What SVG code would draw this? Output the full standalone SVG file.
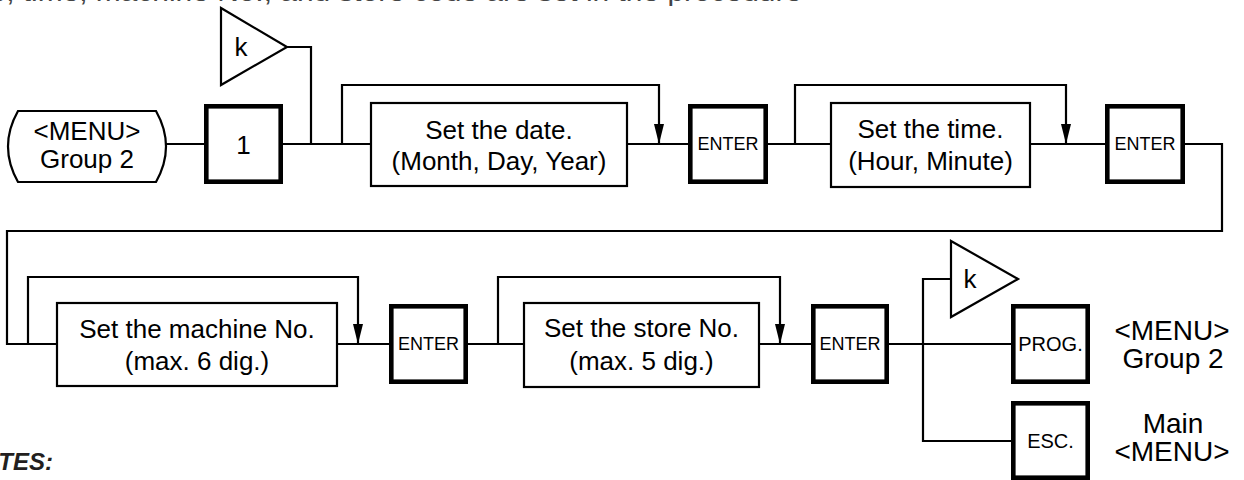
<svg xmlns="http://www.w3.org/2000/svg" width="1244" height="480" viewBox="0 0 1244 480">
<style>
.t{font-family:"Liberation Sans",Arial,sans-serif;fill:#000;text-anchor:middle}
.lbl{font-size:26px}
.key{font-size:18px}
.key2{font-size:20px}
.big{font-size:28px}
.thin{fill:#fff;stroke:#000;stroke-width:2.2}
.thick{fill:#fff;stroke:#000;stroke-width:4.6}
.ln{fill:none;stroke:#000;stroke-width:2.2}
</style>
<defs>
<marker id="arr" markerUnits="userSpaceOnUse" markerWidth="20" markerHeight="10" refX="20" refY="5" orient="auto">
<path d="M0,0 L20,5 L0,10 Z" fill="#000"/>
</marker>
</defs>
<rect width="1244" height="480" fill="#fff"/>
<text x="-52" y="1" font-family="Liberation Sans,Arial,sans-serif" font-size="26" fill="#444" textLength="854" lengthAdjust="spacingAndGlyphs">date, time, machine No., and store code are set in the procedure</text>
<text x="53" y="470" font-family="Liberation Sans,Arial,sans-serif" font-size="24" font-weight="bold" font-style="italic" fill="#231f20" text-anchor="end">NOTES:</text>

<g id="connectors">
<path class="ln" d="M166,144 H204"/>
<path class="ln" d="M283,144 H370"/>
<path class="ln" d="M287,47 H311 V144"/>
<path class="ln" d="M342,144 V85 H659 V144" marker-end="url(#arr)"/>
<path class="ln" d="M628,144 H688"/>
<path class="ln" d="M768,144 H830"/>
<path class="ln" d="M795,144 V85 H1066 V144" marker-end="url(#arr)"/>
<path class="ln" d="M1031,144 H1105"/>
<path class="ln" d="M1185,144 H1222 V231 H7 V344 H56"/>
<path class="ln" d="M28,344 V277 H358 V344" marker-end="url(#arr)"/>
<path class="ln" d="M338,344 H389"/>
<path class="ln" d="M468,344 H523"/>
<path class="ln" d="M498,344 V277 H780 V344" marker-end="url(#arr)"/>
<path class="ln" d="M760,344 H812"/>
<path class="ln" d="M889,344 H1011"/>
<path class="ln" d="M951,279 H923 V441 H1011"/>
</g>

<g id="start">
<path class="thin" d="M18,111 H156 Q176,146.5 156,182 H18 Q-2,146.5 18,111 Z"/>
<text class="t lbl" x="87" y="140">&lt;MENU&gt;</text>
<text class="t lbl" x="87" y="168">Group 2</text>
</g>
<g id="k1">
<path class="thin" d="M221,8 L287,47 L221,85 Z"/>
<text class="t lbl" x="241" y="56">k</text>
</g>
<g id="key1">
<rect class="thick" x="206.3" y="106.3" width="74.4" height="75.4"/>
<text class="t lbl" x="243.5" y="154">1</text>
</g>
<g id="date">
<rect class="thin" x="371" y="103" width="256" height="83"/>
<text class="t lbl" x="499" y="139">Set the date.</text>
<text class="t lbl" x="499" y="170">(Month, Day, Year)</text>
</g>
<g id="enter1">
<rect class="thick" x="690.3" y="106.3" width="75.4" height="75.4"/>
<text class="t key" x="728" y="150">ENTER</text>
</g>
<g id="time">
<rect class="thin" x="831" y="103" width="199" height="84"/>
<text class="t lbl" x="930.5" y="138">Set the time.</text>
<text class="t lbl" x="930.5" y="170">(Hour, Minute)</text>
</g>
<g id="enter2">
<rect class="thick" x="1107.3" y="106.3" width="75.4" height="75.4"/>
<text class="t key" x="1145" y="150">ENTER</text>
</g>
<g id="machine">
<rect class="thin" x="57" y="303" width="280" height="83"/>
<text class="t lbl" x="197" y="338">Set the machine No.</text>
<text class="t lbl" x="197" y="370">(max. 6 dig.)</text>
</g>
<g id="enter3">
<rect class="thick" x="391.3" y="306.3" width="74.4" height="75.4"/>
<text class="t key" x="428.5" y="350">ENTER</text>
</g>
<g id="store">
<rect class="thin" x="524" y="303" width="235" height="84"/>
<text class="t lbl" x="641.5" y="337">Set the store No.</text>
<text class="t lbl" x="641.5" y="370">(max. 5 dig.)</text>
</g>
<g id="enter4">
<rect class="thick" x="813.3" y="306.3" width="73.4" height="75.4"/>
<text class="t key" x="850" y="350">ENTER</text>
</g>
<g id="k2">
<path class="thin" d="M951,241 L1018,279 L951,317 Z"/>
<text class="t lbl" x="970" y="288">k</text>
</g>
<g id="prog">
<rect class="thick" x="1013.3" y="306.3" width="74.4" height="75.4"/>
<text class="t key2" x="1050.5" y="351">PROG.</text>
</g>
<g id="esc">
<rect class="thick" x="1013.3" y="403.3" width="74.4" height="74.4"/>
<text class="t key2" x="1050.5" y="448">ESC.</text>
</g>
<g id="menu-group2">
<text class="t big" x="1172" y="340">&lt;MENU&gt;</text>
<text class="t big" x="1173" y="368">Group 2</text>
</g>
<g id="main-menu">
<text class="t big" x="1173" y="433">Main</text>
<text class="t big" x="1172" y="461">&lt;MENU&gt;</text>
</g>
</svg>
